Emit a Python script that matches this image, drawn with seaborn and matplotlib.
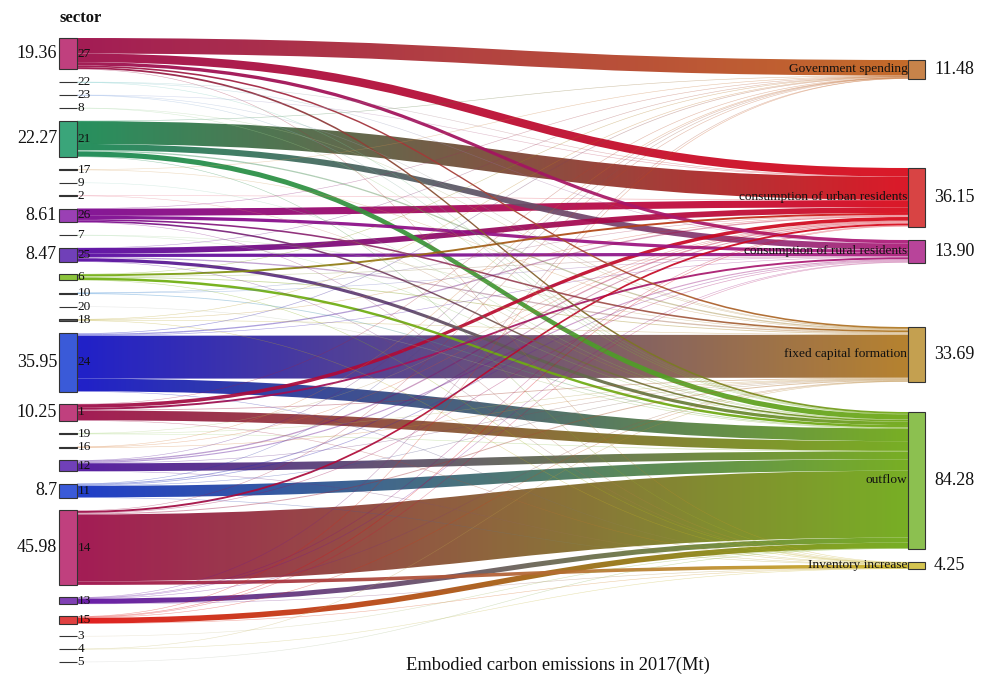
import numpy as np
import matplotlib
matplotlib.use("Agg")
import matplotlib.pyplot as plt
from matplotlib.path import Path
from matplotlib.patches import PathPatch, Rectangle
from matplotlib.collections import LineCollection
import seaborn as sns

# ---------------------------------------------------------------- data
sectors = ["27", "22", "23", "8", "21", "17", "9", "2", "26", "7", "25", "6",
           "10", "20", "18", "24", "1", "19", "16", "12", "11", "14", "13",
           "15", "3", "4", "5"]

uses = ["Government spending", "consumption of urban residents",
        "consumption of rural residents", "fixed capital formation",
        "outflow", "Inventory increase"]

# embodied emissions (Mt) from each sector (same order as `sectors`) to each final use
gov_spending = [9.6, 0, 0, 0, 0.2, 0.2, 0, 0, 0.1, 0, 0.1, 0.05, 0, 0, 0.1,
                0.4, 0.1, 0, 0.13, 0.05, 0.05, 0.3, 0.05, 0.05, 0, 0, 0]
urban_consumption = [5.3, 0.15, 0.1, 0, 14.1, 0, 0, 0.2, 4.4, 0, 3.5, 1.2, 0.2,
                     0, 0.3, 0.8, 2.2, 0.1, 0.3, 0.8, 0.6, 1.2, 0.3, 0.4, 0, 0, 0]
rural_consumption = [2.1, 0.05, 0, 0, 3.8, 0, 0, 0, 2.0, 0, 2.0, 0.3, 0.1, 0, 0,
                     0.3, 1.2, 0, 0, 0.7, 0.45, 0.4, 0.3, 0.2, 0, 0, 0]
fixed_capital = [1.0, 0, 0.05, 0.05, 0.8, 0.2, 0, 0, 1.0, 0.1, 0.8, 0.5, 0, 0,
                 0.3, 26.5, 0.5, 0.2, 0.27, 0.2, 0.2, 0.6, 0.12, 0.2, 0, 0.1, 0]
outflow = [1.1, 0.1, 0.15, 0.1, 3.2, 0, 0.15, 0.15, 1.0, 0.1, 2.0, 1.55, 0.5,
           0.1, 0, 7.8, 6.0, 0.3, 0, 4.85, 7.1, 41.3, 3.13, 3.45, 0.1, 0, 0.05]
inventory = [0.26, 0, 0, 0, 0.17, 0, 0, 0, 0.11, 0, 0.07, 0.1, 0, 0, 0.2, 0.15,
             0.25, 0, 0, 0.06, 0.3, 2.18, 0.1, 0.1, 0, 0.2, 0]

# totals printed beside the larger sectors and beside every final use
sector_total_labels = {"27": "19.36", "21": "22.27", "26": "8.61", "25": "8.47",
                       "24": "35.95", "1": "10.25", "11": "8.7", "14": "45.98"}
use_total_labels = ["11.48", "36.15", "13.90", "33.69", "84.28", "4.25"]

# ---------------------------------------------------------------- styling
link_colors = ["#9c0c48", "#7fcfcf", "#8fb0e8", "#a8d8a8", "#178852", "#d8a868",
               "#a8d8d0", "#e8708a", "#7c0690", "#a8d8a8", "#5608a2", "#70b010",
               "#3f8fd8", "#c8c8c8", "#b8a828", "#1010c4", "#9c0c48", "#a8d880",
               "#d8803a", "#4c109c", "#1030c4", "#9c0c48", "#600ea2", "#e01010",
               "#d8c8a8", "#c8c070", "#c8c8c8"]
node_colors = {"27": "#c0407e", "21": "#3aa57a", "26": "#9a40b4", "25": "#7040b8",
               "6": "#8cc43c", "24": "#3a5ad8", "1": "#c0407e", "12": "#7040b8",
               "11": "#3a5ad8", "14": "#c0407e", "13": "#8040b4", "15": "#e04040"}
use_link_colors = ["#c0601a", "#d80818", "#ac1c7a", "#b07820", "#6ea814", "#c8b424"]
use_node_colors = ["#c8834a", "#d84444", "#b8449a", "#c4a050", "#8cc050", "#d4c450"]

sns.set_theme(style="white")
plt.rcParams["font.family"] = ["Liberation Serif", "DejaVu Serif"]

# layout (pixel space)
W, H = 992, 683
scale = 1.62                 # pixels per Mt
left_x0, left_x1 = 59, 77
right_x0, right_x1 = 908, 925
left_top, left_bottom = 38, 662
right_tops = [60, 168, 240, 327, 412, 562]

matrix = np.array([gov_spending, urban_consumption, rural_consumption,
                   fixed_capital, outflow, inventory]).T   # sectors x uses
src_tot = matrix.sum(axis=1)
dst_tot = matrix.sum(axis=0)

n = len(sectors)
pad = (left_bottom - left_top - src_tot.sum() * scale) / (n - 1)
src_top = left_top + np.concatenate([[0], np.cumsum(src_tot[:-1] * scale + pad)])
dst_top = np.array(right_tops, dtype=float)

fig = plt.figure(figsize=(W / 100, H / 100), dpi=100)
ax = fig.add_axes([0, 0, 1, 1])
ax.set_xlim(0, W)
ax.set_ylim(H, 0)
ax.axis("off")

# running offsets within each node
src_off = src_top.copy()
dst_off = dst_top.copy()
links = []
for i in range(n):
    for j in range(len(uses)):
        v = matrix[i, j]
        if v <= 0:
            continue
        links.append((i, j, v, src_off[i]))
        src_off[i] += v * scale
# incoming ordering at each target follows sector order
link_dst = {}
for i, j, v, ys in links:
    link_dst[(i, j)] = dst_off[j]
    dst_off[j] += v * scale


def bezier(y0, y1, t):
    xm = (left_x1 + right_x0) / 2
    p0, p1, p2, p3 = (left_x1, y0), (xm, y0), (xm, y1), (right_x0, y1)
    x = ((1 - t) ** 3) * p0[0] + 3 * ((1 - t) ** 2) * t * p1[0] + 3 * (1 - t) * t * t * p2[0] + t ** 3 * p3[0]
    y = ((1 - t) ** 3) * p0[1] + 3 * ((1 - t) ** 2) * t * p1[1] + 3 * (1 - t) * t * t * p2[1] + t ** 3 * p3[1]
    return x, y


# draw larger flows first so thin ones remain visible on top
order = sorted(links, key=lambda l: -l[2])
for i, j, v, ys in order:
    yd = link_dst[(i, j)]
    th = v * scale
    grad = sns.blend_palette([link_colors[i], use_link_colors[j]], n_colors=96)
    if th >= 1.3:
        xm = (left_x1 + right_x0) / 2
        verts = [(left_x1, ys), (xm, ys), (xm, yd), (right_x0, yd),
                 (right_x0, yd + th), (xm, yd + th), (xm, ys + th), (left_x1, ys + th),
                 (left_x1, ys)]
        codes = [Path.MOVETO, Path.CURVE4, Path.CURVE4, Path.CURVE4,
                 Path.LINETO, Path.CURVE4, Path.CURVE4, Path.CURVE4, Path.CLOSEPOLY]
        patch = PathPatch(Path(verts, codes), facecolor="none", edgecolor="none")
        ax.add_patch(patch)
        img = np.array(grad)[None, :, :]
        ymin = min(ys, yd) - 1
        ymax = max(ys, yd) + th + 1
        im = ax.imshow(img, extent=(left_x1, right_x0, ymax, ymin), aspect="auto",
                       interpolation="bilinear", alpha=0.93, zorder=2)
        im.set_clip_path(patch)
    else:
        t = np.linspace(0, 1, 97)
        x, y = bezier(ys + th / 2, yd + th / 2, t)
        pts = np.column_stack([x, y]).reshape(-1, 1, 2)
        segs = np.concatenate([pts[:-1], pts[1:]], axis=1)
        lc = LineCollection(segs, colors=grad, linewidths=max(th, 0.55) * 0.72,
                            alpha=0.4, zorder=3, capstyle="butt")
        ax.add_collection(lc)

# sector nodes
for i, s in enumerate(sectors):
    h = src_tot[i] * scale
    fc = node_colors.get(s, "#555555")
    ax.add_patch(Rectangle((left_x0, src_top[i]), left_x1 - left_x0, h,
                           facecolor=fc, edgecolor="#333333", lw=0.8, zorder=4))
    cy = src_top[i] + h / 2
    ax.text(left_x1 + 0.5, cy, s, fontsize=9.5, va="center", ha="left",
            color="#111111", zorder=5)
    if s in sector_total_labels:
        ax.text(left_x0 - 2, cy, sector_total_labels[s], fontsize=13,
                va="center", ha="right", color="#111111")

# final-use nodes
for j, u in enumerate(uses):
    h = dst_tot[j] * scale
    ax.add_patch(Rectangle((right_x0, dst_top[j]), right_x1 - right_x0, h,
                           facecolor=use_node_colors[j], edgecolor="#333333",
                           lw=0.8, zorder=4))
    cy = dst_top[j] + h / 2
    ax.text(right_x0 - 0.5, cy, u, fontsize=9.6, va="center", ha="right",
            color="#111111", zorder=5)
    ax.text(right_x1 + 9, cy, use_total_labels[j], fontsize=13, va="center",
            ha="left", color="#111111")

ax.text(left_x0, 18, "sector", fontsize=12, fontweight="bold", va="center",
        ha="left", color="#111111")
ax.text(558, 665, "Embodied carbon emissions in 2017(Mt)", fontsize=13.3,
        va="center", ha="center", color="#111111")

ax.set_xlim(0, W)
ax.set_ylim(H, 0)
fig.savefig("out.png", dpi=100, facecolor="white")
